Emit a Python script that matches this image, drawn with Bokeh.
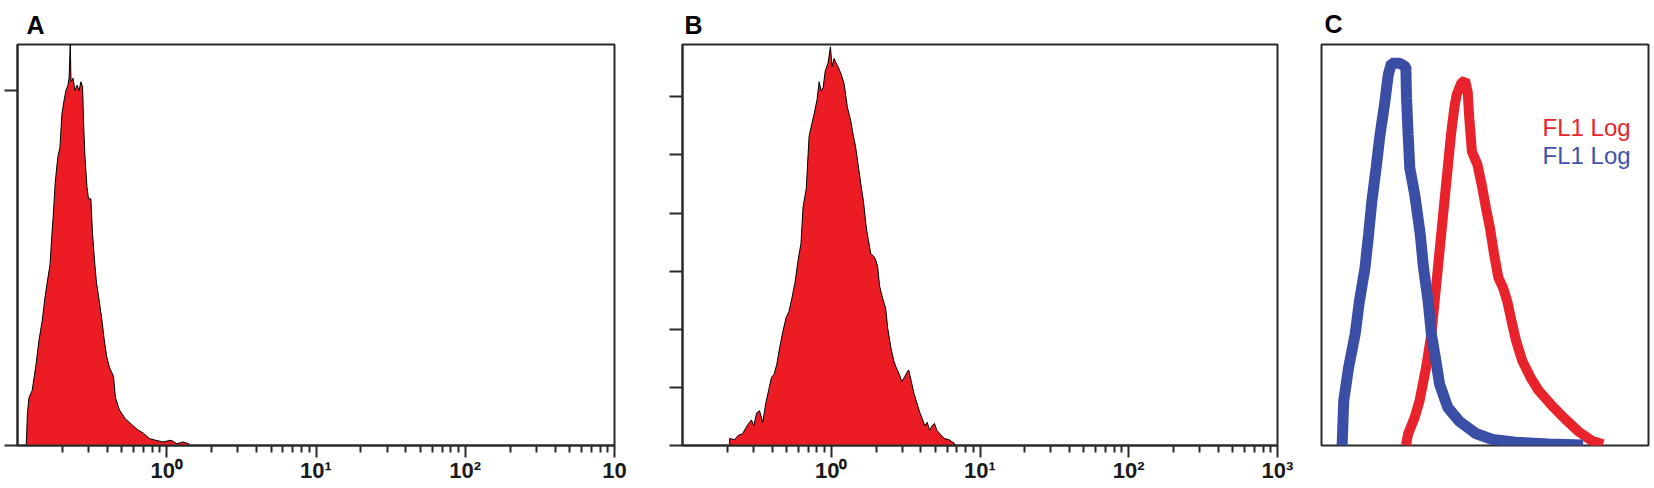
from bokeh.plotting import figure
from bokeh.layouts import row
from bokeh.models import Range1d, FixedTicker, LogAxis, LinearAxis, Label
from bokeh.embed import file_html
from bokeh.resources import INLINE

# ---------------- data ----------------
# Panel A histogram (FL1 log channel value, event count)
a_x = [0.1144, 0.1165, 0.1194, 0.1254, 0.1333, 0.1391, 0.1462, 0.1526, 0.1582, 0.1652,
       0.1703, 0.1734, 0.1789, 0.1833, 0.1867, 0.1925, 0.1949, 0.1985, 0.2047, 0.2110,
       0.2176, 0.2216, 0.2257, 0.2284, 0.2355, 0.2428, 0.2504, 0.2582, 0.2662, 0.2729,
       0.2779, 0.2831, 0.2919, 0.2991, 0.3102, 0.3179, 0.3298, 0.3380, 0.3507, 0.3661,
       0.3821, 0.3963, 0.4136, 0.4396, 0.4533, 0.4820, 0.5284, 0.5793, 0.6349, 0.6959,
       0.7629, 0.8364, 0.9451, 1.068, 1.171, 1.283, 1.407, 1.42]
a_count = [0, 18, 27, 31, 46, 59, 70, 83, 92, 102,
           120, 129, 148, 157, 163, 168, 176, 187, 194, 200,
           203, 207, 226, 205, 207, 200, 203, 200, 205, 202,
           179, 163, 146, 139, 139, 120, 102, 92, 83, 72,
           59, 50, 44, 39, 27, 20, 15, 12, 9, 7,
           4, 3, 2, 3, 1, 2, 1, 0]

# Panel B histogram
b_x = [0.2075, 0.2075, 0.2237, 0.2380, 0.2533, 0.2663, 0.2782, 0.2906, 0.3017, 0.3152,
       0.3294, 0.3462, 0.3639, 0.3802, 0.3972, 0.4124, 0.4307, 0.4498, 0.4728, 0.4970,
       0.5192, 0.5424, 0.5702, 0.5994, 0.6261, 0.6460, 0.6792, 0.7095, 0.7412, 0.7695,
       0.8037, 0.8293, 0.8556, 0.8826, 0.9106, 0.9512, 0.9876, 1.0125, 1.0447, 1.0778,
       1.1189, 1.1689, 1.2210, 1.2837, 1.3494, 1.4096, 1.4544, 1.5289, 1.5970, 1.6476,
       1.6998, 1.7320, 1.7758, 1.8436, 1.9259, 1.9870, 2.0500, 2.1150, 2.2233, 2.3222,
       2.3957, 2.5184, 2.6309, 2.7142, 2.8532, 2.9808, 3.1139, 3.2329, 3.3146, 3.4412,
       3.5949, 3.7548, 3.9472, 4.0979, 4.2543, 4.4157, 4.5838, 4.7588, 4.9397, 5.1286,
       5.3914, 5.7398, 6.1832, 6.7082, 6.75]
b_count = [0, 6, 5, 9, 10, 15, 19, 22, 17, 28,
           30, 20, 37, 48, 59, 61, 70, 84, 98, 110,
           115, 126, 140, 160, 174, 205, 221, 266, 277, 286,
           298, 313, 305, 308, 322, 329, 343, 326, 333, 329,
           325, 319, 311, 291, 280, 266, 258, 238, 221, 210,
           193, 185, 177, 165, 163, 160, 154, 137, 126, 118,
           101, 84, 73, 68, 62, 55, 59, 63, 65, 56,
           45, 37, 28, 23, 17, 20, 13, 17, 19, 13,
           10, 6, 5, 2, 0]

# Panel C overlay (channel, % of max)
c_red_x = [258, 265, 285, 300, 320, 336, 346, 356, 366, 376, 386, 396, 406, 413, 427, 439,
           447, 452, 460, 477, 490, 503, 515, 528, 541, 555, 568, 581, 595, 614, 639, 664,
           705, 745, 786, 826, 861]
c_red_y = [0, 2.9, 7.0, 11.2, 19.5, 27.8, 36.0, 44.3, 52.6, 60.9, 69.2, 77.5, 84.1, 87.4, 90.3, 91.1,
           88.2, 81.6, 73.3, 70.0, 65.0, 59.2, 54.3, 47.6, 41.8, 39.4, 36.0, 31.1, 26.1, 21.1, 17.0, 13.7,
           9.9, 6.6, 3.5, 1.2, 0.3]
c_blue_x = [63, 68, 83, 103, 116, 133, 144, 154, 167, 179, 194, 204, 214, 240, 258, 260, 265,
            270, 285, 295, 302, 312, 326, 336, 349, 361, 386, 422, 472, 523, 593, 695, 800]
c_blue_y = [0, 11.2, 19.5, 27.8, 36.0, 44.3, 52.6, 60.9, 69.2, 77.5, 85.8, 92.4, 95.3, 95.3, 94.4, 86.6, 77.5,
            69.2, 62.6, 56.8, 52.6, 44.3, 36.0, 27.8, 21.5, 15.3, 9.5, 6.0, 3.0, 1.5, 0.8, 0.4, 0.1]

x_major = [1, 10, 100, 1000]
x_labels_a = ["10\u2070", "10\u00b9", "10\u00b2", "10"]
x_labels_b = ["10\u2070", "10\u00b9", "10\u00b2", "10\u00b3"]
x_minor = [m * 10.0 ** e for e in (-1, 0, 1, 2) for m in range(2, 10)]
a_yticks = [0, 200]
b_yticks = [0, 50, 100, 150, 200, 250, 300]
panel_letters = ["A", "B", "C"]
legend_texts = ["FL1 Log", "FL1 Log"]

RED = "#ec1c24"
LINE = "#2a2a2a"
H = 488


def style_title(p, letter, offset, standoff):
    p.title.text = letter
    p.title.align = "left"
    p.title.offset = offset
    p.title.standoff = standoff
    p.title.text_font = "Liberation Sans"
    p.title.text_font_style = "bold"
    p.title.text_font_size = "25px"
    p.title.text_color = "black"


def hist_panel(width, bl, br, bt, bb, xs, ys, ymax, yticks, labels,
               letter, t_offset, t_standoff):
    p = figure(width=width, height=H, x_axis_type="log",
               x_axis_location=None, y_axis_location=None,
               x_range=Range1d(0.1, 1000), y_range=Range1d(0, ymax),
               output_backend="svg", toolbar_location=None,
               min_border_left=bl, min_border_right=br,
               min_border_top=bt, min_border_bottom=bb)
    p.grid.visible = False
    p.outline_line_color = LINE
    p.outline_line_width = 2
    p.background_fill_color = "white"
    p.border_fill_color = "white"
    style_title(p, letter, t_offset, t_standoff)

    p.varea(x=xs, y1=[0] * len(xs), y2=ys, fill_color=RED)
    p.line(x=xs, y=ys, line_color="black", line_width=1)

    xaxis = LogAxis(ticker=FixedTicker(ticks=x_major, minor_ticks=x_minor),
                    major_label_overrides={t: s for t, s in zip(x_major, labels)},
                    axis_line_color=LINE, axis_line_width=2,
                    major_tick_line_color=LINE, major_tick_line_width=2,
                    minor_tick_line_color=LINE, minor_tick_line_width=2,
                    major_tick_in=0, major_tick_out=12,
                    minor_tick_in=0, minor_tick_out=7,
                    major_label_standoff=0,
                    major_label_text_font="Liberation Sans",
                    major_label_text_font_style="bold",
                    major_label_text_font_size="22px",
                    major_label_text_color="#1a1a1a")
    p.add_layout(xaxis, "below")

    yaxis = LinearAxis(ticker=FixedTicker(ticks=yticks, minor_ticks=[]),
                       major_label_overrides={t: "" for t in yticks},
                       axis_line_color=LINE, axis_line_width=2,
                       major_tick_line_color=LINE, major_tick_line_width=2,
                       major_tick_in=0, major_tick_out=13,
                       minor_tick_in=0, minor_tick_out=0,
                       major_label_standoff=0)
    p.add_layout(yaxis, "left")
    return p


# frame geometry (page px): A 17..614 x 42..450, B 682..1277 x 40..451, C 1321..1648 x 43..445
pa = hist_panel(640, 17, 26, 42, 38, a_x, a_count, 226, a_yticks, x_labels_a,
                panel_letters[0], 9, 12)
pb = hist_panel(660, 42, 23, 40, 37, b_x, b_count, 345, b_yticks, x_labels_b,
                panel_letters[1], 2, 11)

pc = figure(width=354, height=H, x_range=Range1d(0, 1000), y_range=Range1d(0, 100),
            x_axis_location=None, y_axis_location=None,
            output_backend="svg", toolbar_location=None,
            min_border_left=21, min_border_right=6, min_border_top=43, min_border_bottom=43)
pc.grid.visible = False
pc.outline_line_color = LINE
pc.outline_line_width = 2
style_title(pc, panel_letters[2], 3, 14)
pc.line(x=c_red_x, y=c_red_y, line_color="#e8232b", line_width=10)
pc.line(x=c_blue_x, y=c_blue_y, line_color="#3b4ea6", line_width=11)
pc.add_layout(Label(x=676, y=79.2, text=legend_texts[0], text_font="Liberation Sans",
                    text_font_size="24px", text_color="#e8232b", text_baseline="alphabetic"))
pc.add_layout(Label(x=676, y=72.2, text=legend_texts[1], text_font="Liberation Sans",
                    text_font_size="24px", text_color="#3f52ad", text_baseline="alphabetic"))

layout = row(pa, pb, pc)
open("out.html", "w").write(file_html(layout, INLINE))
